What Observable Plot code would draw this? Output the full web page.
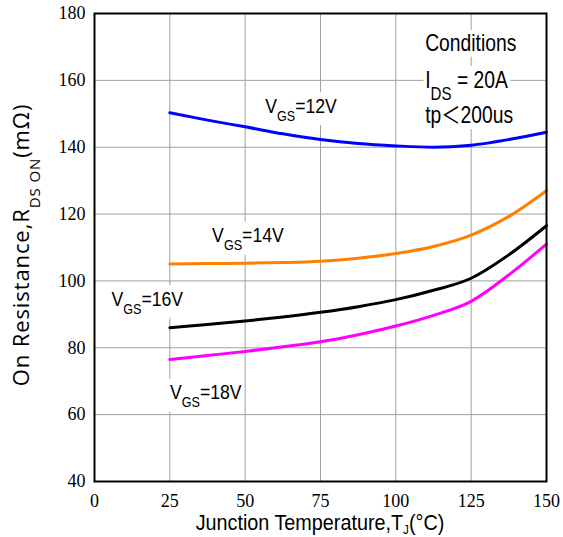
<!DOCTYPE html>
<html><head><meta charset="utf-8">
<script src="https://cdn.jsdelivr.net/npm/d3@7"></script>
<script src="https://cdn.jsdelivr.net/npm/@observablehq/plot@0.6"></script>
<style>body{margin:0;background:#fff} svg{display:block}</style>
</head><body><div id="chart"></div>
<script>
// Junction temperature (°C)
const temps = [25, 37.5, 50, 62.5, 75, 87.5, 100, 112.5, 125, 137.5, 150];
// On resistance (mΩ) per gate voltage
const vgs12 = [150.3, 148.1, 146.1, 144.0, 142.3, 141.1, 140.4, 140.0, 140.6, 142.3, 144.5];
const vgs14 = [105.1, 105.2, 105.3, 105.5, 105.9, 106.8, 108.2, 110.3, 113.7, 119.3, 127.0];
const vgs16 = [86.0, 87.0, 88.0, 89.2, 90.6, 92.3, 94.4, 97.2, 100.8, 107.8, 116.5];
const vgs18 = [76.5, 77.7, 78.9, 80.3, 81.8, 83.9, 86.5, 89.7, 93.9, 101.8, 111.0];
const seriesNames = ["VGS=12V", "VGS=14V", "VGS=16V", "VGS=18V"];
const seriesColors = ["#0000ff", "#ff8000", "#000000", "#ff00ff"];
const xTicks = [0, 25, 50, 75, 100, 125, 150];
const yTicks = [40, 60, 80, 100, 120, 140, 160, 180];

const rows = [];
[vgs12, vgs14, vgs16, vgs18].forEach((vals, i) =>
  vals.forEach((v, j) => rows.push({t: temps[j], r: v, s: seriesNames[i]})));

const plot = Plot.plot({
  width: 563, height: 537,
  marginLeft: 94, marginRight: 17, marginTop: 13, marginBottom: 56,
  style: {fontFamily: "'Liberation Serif', serif", fontSize: "18px", background: "white", color: "black"},
  x: {domain: [0, 150], label: null},
  y: {domain: [40, 180], label: null},
  color: {domain: seriesNames, range: seriesColors},
  marks: [
    Plot.gridX(xTicks.slice(1, -1), {stroke: "#a0a0a0", strokeOpacity: 1, strokeWidth: 1}),
    Plot.gridY(yTicks.slice(1, -1), {stroke: "#a0a0a0", strokeOpacity: 1, strokeWidth: 1}),
    Plot.axisX(xTicks, {tickSize: 0, tickPadding: 13, label: null, tickFormat: d => String(d)}),
    Plot.axisY(yTicks, {tickSize: 0, tickPadding: 9, label: null, tickFormat: d => String(d)}),
    Plot.line(rows, {x: "t", y: "r", z: "s", stroke: "s", strokeWidth: 3, curve: "monotone-x"}),
    Plot.frame({stroke: "black", strokeWidth: 2})
  ]
});
document.getElementById("chart").appendChild(plot);

// Annotations
const svg = d3.select(plot);
const sx = plot.scale("x").apply, sy = plot.scale("y").apply;
const sans = "'Liberation Sans', Arial, 'Noto Sans CJK SC', sans-serif";
const annots = [
  {x: 56.8, y: 150.2, size: 21, parts: [["V"], ["GS", 1], ["=12V"]]},
  {x: 39.2, y: 111.4, size: 21, parts: [["V"], ["GS", 1], ["=14V"]]},
  {x: 5.8, y: 92.5, size: 21, parts: [["V"], ["GS", 1], ["=16V"]]},
  {x: 25.2, y: 64.4, size: 21, parts: [["V"], ["GS", 1], ["=18V"]]},
  {x: 109.9, y: 168.5, size: 23, parts: [["Conditions"]]},
  {x: 109.9, y: 157.7, size: 23, parts: [["I"], ["DS", 2], [" = 20A"]]},
  {x: 109.9, y: 147.2, size: 23, parts: [["tp＜200us"]]}
];
function richText(parent, parts, opts) {
  const t = parent.append("text").attr("x", 0).attr("y", 0)
    .attr("font-family", opts.family).attr("font-size", opts.size).attr("fill", "black")
    .attr("text-anchor", opts.anchor || "start");
  if (opts.spacing) t.attr("letter-spacing", opts.spacing);
  let shifted = 0;
  parts.forEach(([s, sub]) => {
    const ts = t.append("tspan").text(s);
    if (sub) {
      const d = sub === 2 ? opts.subShift2 : opts.subShift;
      ts.attr("font-size", sub === 2 ? opts.subSize2 : opts.subSize).attr("dy", d - shifted);
      shifted = d;
    } else if (shifted) {
      ts.attr("dy", -shifted); shifted = 0;
    }
  });
  return t;
}
const ag = svg.append("g");
annots.forEach(a => {
  const g = ag.append("g").attr("transform", `translate(${sx(a.x)},${sy(a.y)}) scale(0.84,1)`);
  const t = richText(g, a.parts,
    {family: sans, size: a.size, subSize: 15, subShift: 8, subSize2: 18, subShift2: 12});
  const b = t.node().getBBox();
  g.insert("rect", () => t.node()).attr("x", b.x - 2).attr("y", b.y - 1)
    .attr("width", b.width + 4).attr("height", b.height + 2).attr("fill", "white");
});

// Axis titles
richText(svg.append("g").attr("transform", "translate(320,530) scale(0.9,1)"),
  [["Junction Temperature,T"], ["J", 1], ["(°C)"]],
  {family: sans, size: 22, subSize: 13, subShift: 4, anchor: "middle"});
richText(svg.append("g").attr("transform", "translate(29,245) rotate(-90)"),
  [["On Resistance,R"], ["DS ON", 1], ["(mΩ)"]],
  {family: "'Open Sans', 'DejaVu Sans', sans-serif", size: 22, subSize: 15, subShift: 11, anchor: "middle", spacing: 0.9});
</script>
</body></html>
